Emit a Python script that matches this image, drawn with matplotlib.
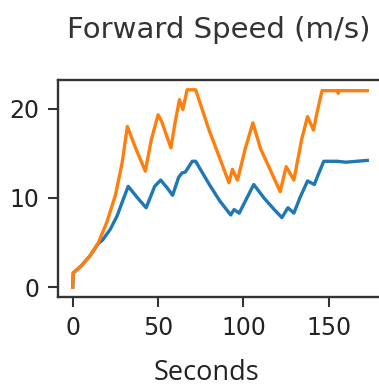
import matplotlib.pyplot as plt
import numpy as np

# orange series (upper)
t_upper = [0, 0.3, 5, 10, 15, 20, 25, 29, 32, 37, 42.5, 46, 50, 52, 57.5, 60, 62.5,
           64.5, 67, 72, 80, 86, 91.5, 93.5, 96.5, 101, 105.5, 110, 116, 121.5, 125,
           129.5, 134, 137.5, 141, 143, 146, 155, 155.5, 156, 172.5]
v_upper = [0, 1.6, 2.4, 3.5, 5.0, 7.3, 10.3, 14.0, 18.0, 15.5, 13.0, 16.5, 19.3, 18.6,
           15.6, 18.5, 21.0, 19.9, 22.1, 22.1, 17.5, 14.5, 11.7, 13.2, 12.0, 15.5, 18.4,
           15.5, 13.0, 10.7, 13.5, 12.0, 16.5, 19.1, 17.6, 19.5, 22.0, 22.0, 21.7, 22.0,
           22.0]

# blue series (lower)
t_lower = [0, 0.3, 5, 10, 15, 17.5, 22, 26, 29.5, 32.5, 38, 43, 48, 51.5, 55, 58.5, 62,
           64, 66, 70, 72, 80, 86, 92.5, 94.5, 97.5, 102, 106, 112, 118, 122.5, 126,
           129.5, 133, 137.5, 141.5, 143.5, 147, 155, 160, 172.5]
v_lower = [0, 1.6, 2.4, 3.5, 4.9, 5.3, 6.5, 8.0, 9.8, 11.3, 10.0, 8.9, 11.3, 12.0, 11.2,
           10.3, 12.3, 12.8, 12.9, 14.1, 14.1, 11.5, 9.7, 8.1, 8.7, 8.3, 10.0, 11.5, 10.0,
           8.7, 7.8, 8.9, 8.3, 10.0, 11.9, 11.5, 12.5, 14.1, 14.1, 14.0, 14.2]

xticks = [0, 50, 100, 150]
yticks = [0, 10, 20]

fig = plt.figure(figsize=(3.79, 3.86), dpi=100)
ax = fig.add_axes([0.153, 0.23, 0.855, 0.563])

ax.plot(t_lower, v_lower, color="tab:blue", lw=2.4)
ax.plot(t_upper, v_upper, color="tab:orange", lw=2.4)

ax.set_xticks(xticks)
ax.set_yticks(yticks)
ax.tick_params(labelsize=17, length=7, width=1.5, pad=6.5, color="#333333",
               labelcolor="#222222")
for s in ax.spines.values():
    s.set_linewidth(1.7)
    s.set_color("#333333")

fig.text(0.545, 0.0155, "Seconds", family="Open Sans", fontsize=19.5,
         ha="center", va="baseline", color="#222222")
fig.text(0.578, 0.9016, "Forward Speed (m/s)", family="DejaVu Sans", fontsize=21,
         ha="center", va="baseline", color="#333333")

fig.savefig("out.png", dpi=100)
